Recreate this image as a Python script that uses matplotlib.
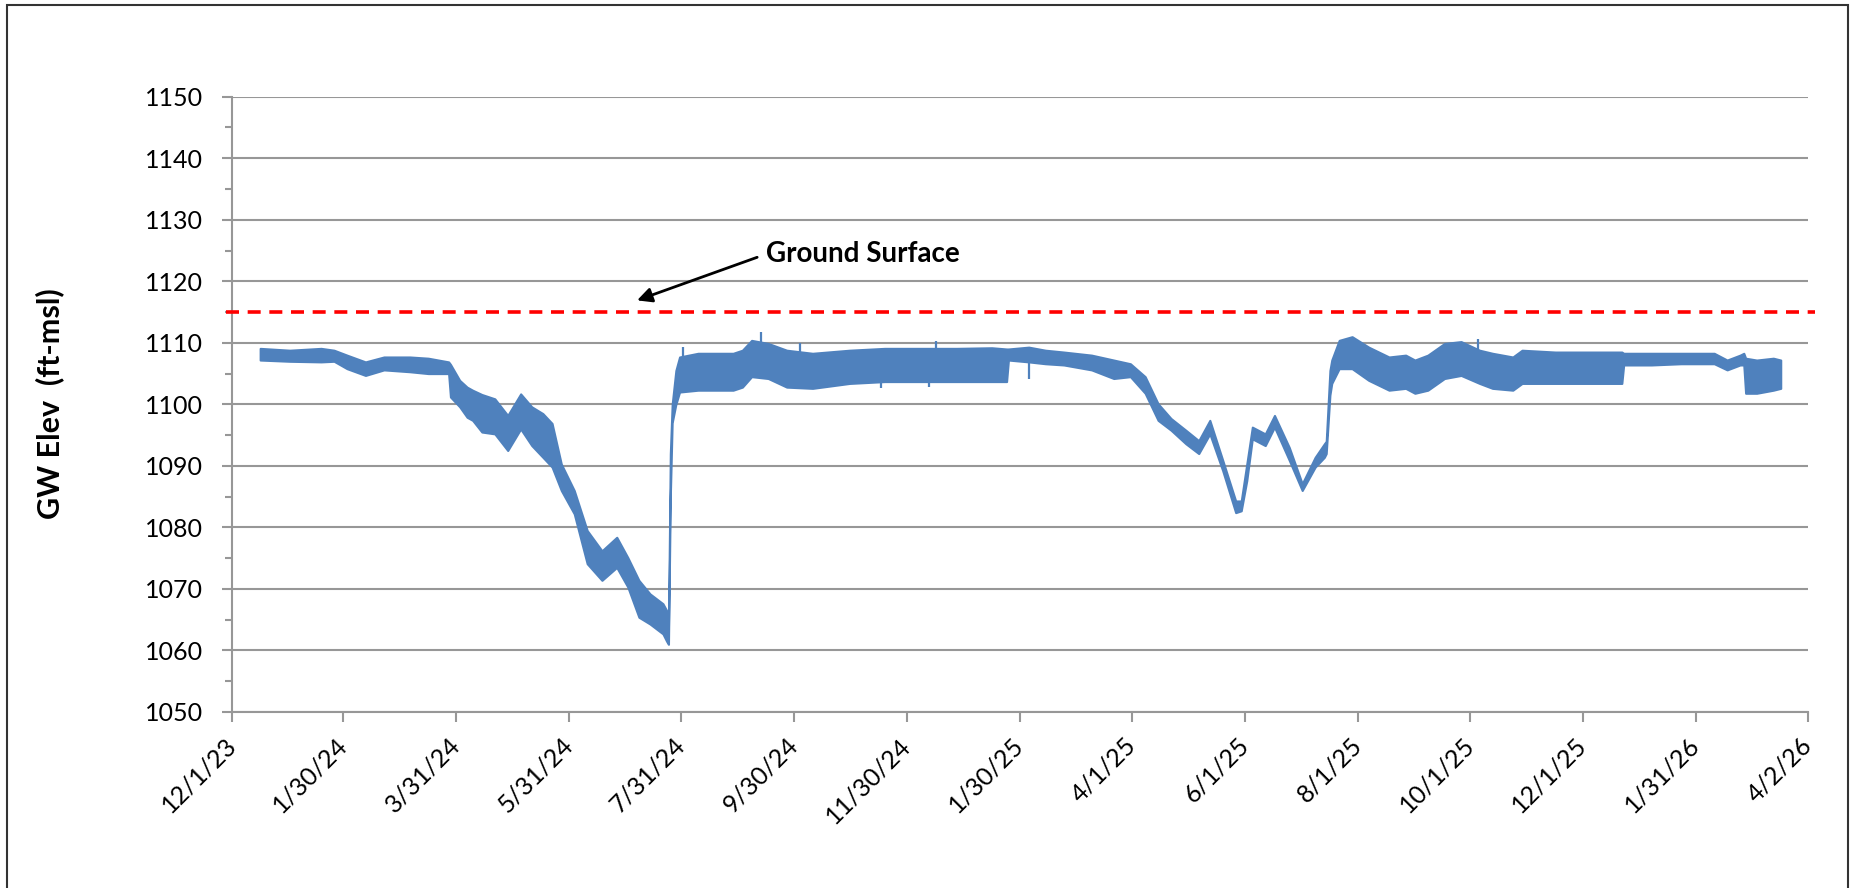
"""
Groundwater elevation hydrograph with the ground surface reference line.

The logger record fluctuates daily, so the series is kept as a low / high
envelope read off the chart and drawn as a filled band.
"""

import matplotlib

matplotlib.use("Agg")

import matplotlib.pyplot as plt
import pandas as pd
from matplotlib.patches import Rectangle
from matplotlib.ticker import MultipleLocator

# Groundwater elevation record (ft-msl): daily low / high envelope
dates = [
    "2023-12-16", "2024-01-01", "2024-01-18", "2024-01-25", "2024-02-01",
    "2024-02-11", "2024-02-21", "2024-03-06", "2024-03-16", "2024-03-27",
    "2024-03-28", "2024-04-02", "2024-04-06", "2024-04-09", "2024-04-14",
    "2024-04-21", "2024-04-28", "2024-05-05", "2024-05-11", "2024-05-17",
    "2024-05-22", "2024-05-27", "2024-06-03", "2024-06-10", "2024-06-18",
    "2024-06-26", "2024-07-02", "2024-07-08", "2024-07-14", "2024-07-21",
    "2024-07-23", "2024-07-24", "2024-07-25", "2024-07-26", "2024-07-28",
    "2024-07-30", "2024-08-09", "2024-08-28", "2024-09-02", "2024-09-07",
    "2024-09-16", "2024-09-26", "2024-10-10", "2024-10-30", "2024-11-18",
    "2024-12-07", "2024-12-27", "2025-01-15", "2025-01-23", "2025-01-24",
    "2025-02-04", "2025-02-13", "2025-02-23", "2025-03-10", "2025-03-22",
    "2025-03-31", "2025-04-08", "2025-04-15", "2025-04-22", "2025-04-30",
    "2025-05-07", "2025-05-13", "2025-05-20", "2025-05-27", "2025-05-30",
    "2025-06-02", "2025-06-05", "2025-06-12", "2025-06-17", "2025-06-25",
    "2025-07-02", "2025-07-09", "2025-07-14", "2025-07-15", "2025-07-17",
    "2025-07-18", "2025-07-22", "2025-07-29", "2025-08-07", "2025-08-18",
    "2025-08-27", "2025-09-01", "2025-09-08", "2025-09-17", "2025-09-26",
    "2025-10-06", "2025-10-13", "2025-10-24", "2025-10-29", "2025-11-16",
    "2025-12-09", "2025-12-22", "2025-12-23", "2026-01-07", "2026-01-23",
    "2026-02-10", "2026-02-17", "2026-02-24", "2026-02-26", "2026-02-27",
    "2026-03-05", "2026-03-14", "2026-03-18",
]
gw_low = [
    1107.2, 1107.0, 1106.9, 1107.0, 1105.8,
    1104.7, 1105.6, 1105.3, 1105.0, 1105.0,
    1101.2, 1099.6, 1097.9, 1097.4, 1095.5,
    1095.2, 1092.5, 1096.0, 1093.3, 1091.4,
    1089.8, 1086.0, 1082.2, 1074.1, 1071.4,
    1073.5, 1070.3, 1065.4, 1064.3, 1062.7,
    1061.5, 1061.0, 1085.0, 1097.0, 1100.0,
    1102.0, 1102.3, 1102.3, 1102.8, 1104.5,
    1104.2, 1102.8, 1102.6, 1103.4, 1103.7,
    1103.7, 1103.7, 1103.7, 1103.7, 1107.2,
    1106.9, 1106.6, 1106.4, 1105.6, 1104.2,
    1104.5, 1101.8, 1097.4, 1095.8, 1093.6,
    1092.0, 1095.2, 1089.2, 1082.4, 1082.7,
    1087.6, 1094.4, 1093.3, 1096.3, 1090.9,
    1086.0, 1089.8, 1091.4, 1092.0, 1101.5,
    1103.4, 1105.8, 1105.8, 1103.9, 1102.3,
    1102.6, 1101.8, 1102.3, 1104.2, 1104.7,
    1103.4, 1102.6, 1102.3, 1103.4, 1103.4,
    1103.4, 1103.4, 1106.4, 1106.4, 1106.6,
    1106.6, 1105.6, 1106.4, 1106.4, 1101.8,
    1101.8, 1102.3, 1102.6,
]
gw_high = [
    1109.1, 1108.8, 1109.1, 1108.8, 1108.0,
    1106.9, 1107.7, 1107.7, 1107.5, 1106.9,
    1106.5, 1103.9, 1102.8, 1102.3, 1101.6,
    1100.9, 1098.2, 1101.7, 1099.6, 1098.5,
    1096.9, 1090.3, 1086.0, 1079.5, 1076.2,
    1078.4, 1075.1, 1071.4, 1069.2, 1067.6,
    1066.5, 1064.0, 1092.0, 1100.0, 1105.5,
    1107.7, 1108.3, 1108.3, 1108.8, 1110.4,
    1109.9, 1108.8, 1108.3, 1108.8, 1109.1,
    1109.1, 1109.1, 1109.2, 1109.0, 1109.0,
    1109.3, 1108.8, 1108.5, 1108.0, 1107.2,
    1106.6, 1104.5, 1100.1, 1097.7, 1095.8,
    1094.1, 1097.4, 1090.9, 1084.3, 1084.3,
    1090.3, 1096.3, 1095.2, 1098.2, 1093.0,
    1087.1, 1091.4, 1093.6, 1094.0, 1105.5,
    1107.2, 1110.4, 1111.0, 1109.3, 1107.7,
    1108.0, 1107.2, 1108.0, 1109.9, 1110.2,
    1108.8, 1108.3, 1107.7, 1108.8, 1108.5,
    1108.5, 1108.5, 1108.3, 1108.3, 1108.3,
    1108.3, 1107.2, 1108.0, 1108.3, 1107.5,
    1107.2, 1107.5, 1107.2,
]

# Single-reading spikes in the record
spike_dates = [
    "2024-08-01", "2024-09-12", "2024-10-03", "2024-11-16",
    "2024-12-12", "2024-12-16", "2025-02-04", "2025-10-05",
]
spike_from = [1107.5, 1109.5, 1108.5, 1104.5, 1104.5, 1108.8, 1107.0, 1108.5]
spike_to = [1109.4, 1111.8, 1109.9, 1102.6, 1102.8, 1110.3, 1104.2, 1110.7]

ground_surface = 1115.0

tick_dates = [
    "2023-12-01", "2024-01-30", "2024-03-31", "2024-05-31", "2024-07-31",
    "2024-09-30", "2024-11-30", "2025-01-30", "2025-04-01", "2025-06-01",
    "2025-08-01", "2025-10-01", "2025-12-01", "2026-01-31", "2026-04-02",
]
tick_labels = [
    "12/1/23", "1/30/24", "3/31/24", "5/31/24", "7/31/24",
    "9/30/24", "11/30/24", "1/30/25", "4/1/25", "6/1/25",
    "8/1/25", "10/1/25", "12/1/25", "1/31/26", "4/2/26",
]

BLUE = "#4F81BD"
GRID = "#979797"

plt.rcParams["font.family"] = ["Lato", "DejaVu Sans"]

fig = plt.figure(figsize=(18.55, 8.88), dpi=100)
ax = fig.add_axes([0.1253, 0.1982, 0.8496, 0.6929])

x = pd.to_datetime(dates)

# Groundwater band
ax.fill_between(x, gw_low, gw_high, facecolor=BLUE, edgecolor=BLUE, lw=1.5, zorder=3)
ax.vlines(pd.to_datetime(spike_dates), spike_from, spike_to, color=BLUE, lw=1.6, zorder=3)

# Ground surface reference
ax.axhline(
    ground_surface,
    xmin=-0.004,
    xmax=1.004,
    color="#FF0000",
    lw=2.6,
    linestyle=(0, (3.6, 2.4)),
    clip_on=False,
    zorder=4,
)
ax.annotate(
    "",
    xy=(pd.Timestamp("2024-07-07"), 1116.9),
    xytext=(pd.Timestamp("2024-09-10"), 1123.9),
    arrowprops=dict(
        arrowstyle="-|>", color="black", lw=2, mutation_scale=22, shrinkA=0, shrinkB=0
    ),
    zorder=5,
)
ax.text(
    pd.Timestamp("2024-09-15"),
    1124.4,
    "Ground Surface",
    fontsize=20,
    fontweight="bold",
    ha="left",
    va="center",
)

# Axes styling
ax.set_xlim(pd.Timestamp(tick_dates[0]), pd.Timestamp(tick_dates[-1]))
ax.set_ylim(1050, 1150)
ax.set_yticks(range(1050, 1151, 10))
ax.yaxis.set_minor_locator(MultipleLocator(5))
ax.set_xticks(pd.to_datetime(tick_dates))
ax.set_xticklabels(tick_labels, rotation=45, ha="right", va="center", rotation_mode="anchor")

ax.grid(axis="y", which="major", color=GRID, lw=1.5, zorder=0)
ax.set_axisbelow(True)
for side in ("top", "right"):
    ax.spines[side].set_visible(False)
for side in ("left", "bottom"):
    ax.spines[side].set_color(GRID)
    ax.spines[side].set_linewidth(1.5)

ax.tick_params(which="major", length=7.2, width=1.5, color=GRID, labelsize=18, labelcolor="black")
ax.tick_params(which="minor", length=4.8, width=1.5, color=GRID)
ax.tick_params(axis="y", pad=14)
ax.tick_params(axis="x", pad=14)

fig.text(
    50 / 1855,
    1 - 404 / 888,
    "GW Elev  (ft-msl)",
    rotation=90,
    ha="center",
    va="center",
    fontsize=22,
    fontweight="bold",
)

# Chart border
fig.patches.append(
    Rectangle(
        (7 / 1855, -0.05),
        (1848 - 7) / 1855,
        1.05 - 5 / 888,
        transform=fig.transFigure,
        fill=False,
        edgecolor="#333333",
        lw=1.5,
    )
)

fig.savefig("out.png", dpi=100)
